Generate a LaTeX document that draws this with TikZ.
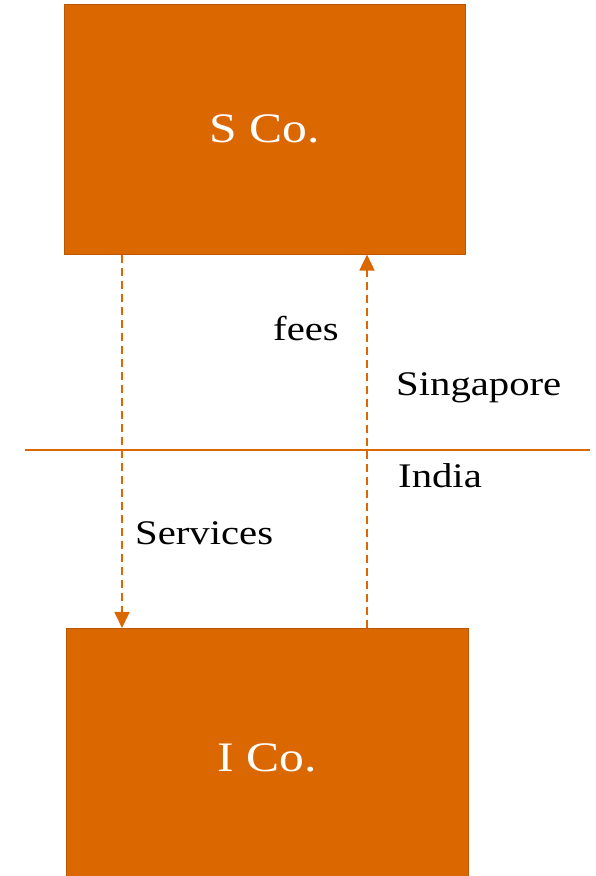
\documentclass[tikz,border=0pt]{standalone}
\usepackage{fontspec}
\setmainfont{Liberation Serif}[FakeStretch=1.18]
\usetikzlibrary{arrows.meta}
\definecolor{orng}{HTML}{DA6700}
\tikzset{
  cobox/.style={fill=orng, draw=orng!85!black, line width=0.6pt, text=white, font=\fontsize{42}{48}\selectfont, inner sep=0pt, anchor=north west},
  flow/.style={orng, line width=1.8pt, dash pattern=on 8pt off 5pt, -{Triangle[length=16pt,width=15pt]}},
  lbl/.style={font=\fontsize{34.5}{40}\selectfont, inner sep=0pt, anchor=base west, text=black}
}
\begin{document}
\begin{tikzpicture}[x=1pt,y=1pt]
\useasboundingbox (0,0) rectangle (595,876);
\node[cobox, minimum width=401pt, minimum height=250pt] (sco) at (64,872) {S Co.};
\node[cobox, minimum width=402pt, minimum height=260pt] (ico) at (66,248) {I Co.};
\coordinate (lineL) at (25,426);
\coordinate (lineR) at (590,426);
\draw[orng, line width=1.3pt] (lineL) -- (lineR);
\draw[flow] ([xshift=58pt]sco.south west) -- ([xshift=56pt]ico.north west);
\draw[flow] ([xshift=301pt]ico.north west) -- ([xshift=303pt]sco.south west);
\node[lbl] (fees) at (273,535) {fees};
\node[lbl] (sing) at (396,480) {Singapore};
\node[lbl] (india) at (398,388) {India};
\node[lbl] (serv) at (135,331) {Services};
\end{tikzpicture}
\end{document}
